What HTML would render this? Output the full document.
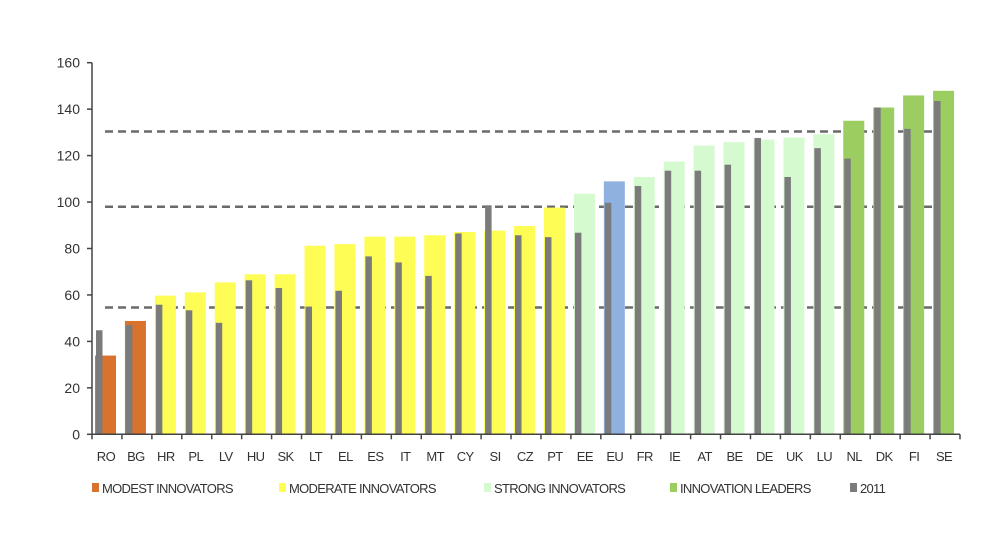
<!DOCTYPE html>
<html><head><meta charset="utf-8"><style>
html,body{margin:0;padding:0;background:#fff;}
svg{display:block;font-family:"Liberation Sans",sans-serif;}
</style></head><body>
<svg id="chart" width="988" height="551" viewBox="0 0 988 551" xmlns="http://www.w3.org/2000/svg">
<rect width="988" height="551" fill="#fff"/>
<g id="grid"></g><g id="bars"></g><g id="axes"></g><g id="legend"></g>
</svg>
<script>
const categories=["RO","BG","HR","PL","LV","HU","SK","LT","EL","ES","IT","MT","CY","SI","CZ","PT","EE","EU","FR","IE","AT","BE","DE","UK","LU","NL","DK","FI","SE"].slice(0,28).concat([]);
const groups=["modest","modest","moderate","moderate","moderate","moderate","moderate","moderate","moderate","moderate","moderate","moderate","moderate","moderate","moderate","moderate","strong","eu","strong","strong","strong","strong","strong","strong","strong","leader","leader","leader","leader"];
const values2013=[33.9,48.8,59.7,61.1,65.4,68.9,68.9,81.2,81.9,85.1,85.1,85.7,87.1,87.7,89.7,97.6,103.6,108.9,110.8,117.4,124.3,125.8,126.9,127.8,129.2,135,140.7,145.9,147.9];
const values2011=[44.8,47,55.8,53.4,48,66.3,63,55,61.8,76.6,74,68.2,86.5,98.6,85.7,84.9,86.8,99.7,106.9,113.5,113.5,116.1,127.6,110.8,123.2,118.7,140.7,131.5,143.5];
const thresholds=[54.6,98,130.4];
const yTicks=[0,20,40,60,80,100,120,140,160];
const legendLabels=["MODEST INNOVATORS","MODERATE INNOVATORS","STRONG INNOVATORS","INNOVATION LEADERS","2011"];
</script>
<script>
const NS="http://www.w3.org/2000/svg";
const colors={modest:"#d8722c",moderate:"#fdfd55",strong:"#d6fad0",leader:"#9bcd60",eu:"#8fb1e0"};
const gray="#7b7b7b";
const cats=["RO","BG","HR","PL","LV","HU","SK","LT","EL","ES","IT","MT","CY","SI","CZ","PT","EE","EU","FR","IE","AT","BE","DE","UK","LU","NL","DK","FI","SE"];
const x0=92,x1=960,y0=434.3,yTop=62.7,n=cats.length;
const band=(x1-x0)/n;
function xs(i){return x0+i*band;}
function ys(v){return y0-(v/160)*(y0-yTop);}
function mk(tag,attrs,parent){const e=document.createElementNS(NS,tag);for(const k in attrs)e.setAttribute(k,attrs[k]);parent.appendChild(e);return e;}
const G=id=>document.getElementById(id);
// bars
cats.forEach((c,i)=>{
  const v=values2013[i],g=values2011[i];
  const b=mk("rect",{x:xs(i)+3,y:ys(v),width:21,height:y0-ys(v),fill:colors[groups[i]]},G("bars"));
  
  
  const r=mk("rect",{x:xs(i)+4,y:ys(g),width:6.5,height:y0-ys(g),fill:gray},G("bars"));
  
  
  const t=mk("text",{x:xs(i)+band/2-1,y:461,"font-size":13,fill:"#333","text-anchor":"middle","letter-spacing":"-0.6"},G("axes"));
  t.textContent=c;
  
  
});
// thresholds
thresholds.forEach((v,i)=>{
  const l=mk("line",{x1:105,x2:948,y1:ys(v),y2:ys(v),stroke:"#6a6a6a","stroke-width":2.5,"stroke-dasharray":"8 5"},G("grid"));
  
  
});
// axes
const ya=mk("line",{x1:x0,x2:x0,y1:yTop,y2:y0,stroke:"#444","stroke-width":1.5},G("axes"));


const xa=mk("line",{x1:x0,x2:x1,y1:y0,y2:y0,stroke:"#444","stroke-width":1.5},G("axes"));


yTicks.forEach(v=>{
  mk("line",{x1:x0-5,x2:x0,y1:ys(v),y2:ys(v),stroke:"#444","stroke-width":1.5},G("axes"));
  const t=mk("text",{x:x0-12,y:ys(v)+5,"font-size":14,fill:"#333","text-anchor":"end"},G("axes"));
  t.textContent=v;
  
  
});
for(let i=0;i<=n;i++){mk("line",{x1:xs(i),x2:xs(i),y1:y0,y2:y0+5,stroke:"#444","stroke-width":1.5},G("axes"));}
// legend
const lx=[92,279,484,670,850];
const lc=[colors.modest,colors.moderate,colors.strong,colors.leader,gray];
legendLabels.forEach((s,i)=>{
  const r=mk("rect",{x:lx[i],y:483,width:7,height:9,fill:lc[i]},G("legend"));
  
  
  const t=mk("text",{x:lx[i]+10,y:493,"font-size":13,fill:"#333","letter-spacing":"-0.7"},G("legend"));
  t.textContent=s;
  
  
});
</script>
</body></html>
